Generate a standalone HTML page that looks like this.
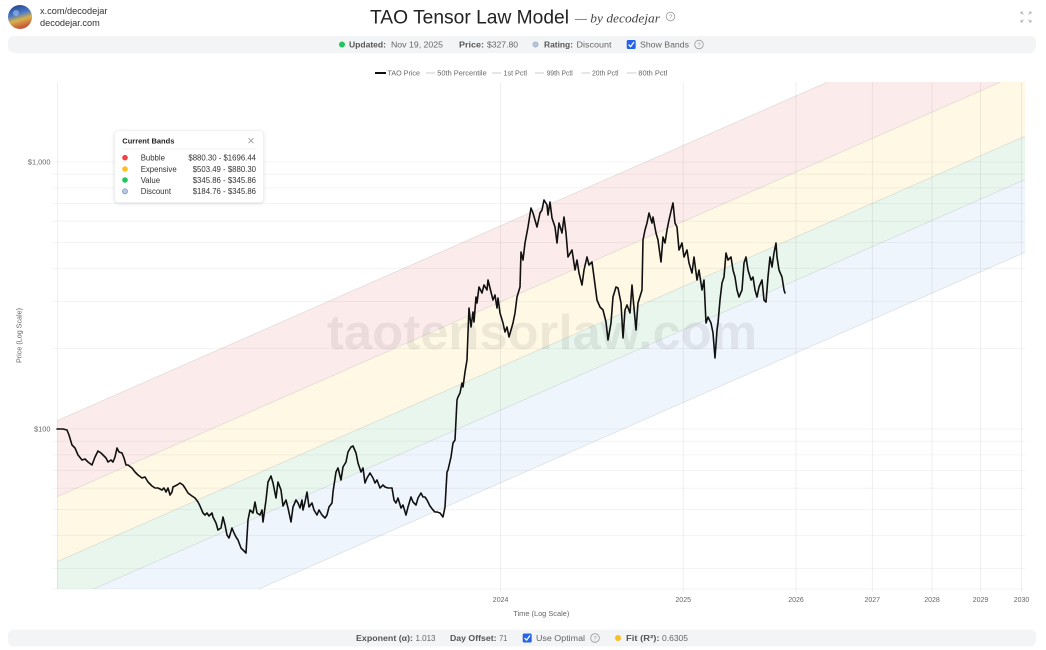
<!DOCTYPE html>
<html><head><meta charset="utf-8"><style>
html,body{margin:0;padding:0;background:#fff;width:1046px;height:650px;overflow:hidden}
svg{position:absolute;left:0;top:0;font-family:"Liberation Sans",sans-serif}
</style></head><body>
<svg width="1046" height="650" viewBox="0 0 1046 650" xmlns="http://www.w3.org/2000/svg">
<defs>
<clipPath id="pc"><rect x="57" y="82" width="968" height="507"/></clipPath>
<linearGradient id="av" x1="0" y1="0" x2="0.3" y2="1">
<stop offset="0" stop-color="#1d3b7a"/><stop offset="0.45" stop-color="#4a78c8"/><stop offset="0.7" stop-color="#d8b24a"/><stop offset="1" stop-color="#c85a3a"/></linearGradient>
<filter id="sh" x="-10%" y="-10%" width="120%" height="130%"><feDropShadow dx="0" dy="1" stdDeviation="1.5" flood-color="#000" flood-opacity="0.12"/></filter>
</defs>

<!-- header -->
<circle cx="20" cy="17" r="12" fill="url(#av)"/>
<circle cx="16" cy="13" r="3" fill="#9cc0f0" opacity="0.6"/>
<text x="40" y="14" font-size="9.2" fill="#333">x.com/decodejar</text>
<text x="40" y="25.8" font-size="9.2" fill="#333">decodejar.com</text>
<text x="370" y="23.3" font-size="19" fill="#222" textLength="199" lengthAdjust="spacingAndGlyphs">TAO Tensor Law Model</text>
<text x="575" y="22.5" font-size="13" fill="#444" font-family="Liberation Serif,serif" font-style="italic" textLength="85" lengthAdjust="spacingAndGlyphs">— by decodejar</text>
<circle cx="670.5" cy="16.5" r="4.3" fill="none" stroke="#999" stroke-width="0.8"/>
<text x="670.5" y="18.8" font-size="6" fill="#999" text-anchor="middle">?</text>
<g stroke="#aaa" stroke-width="0.8" fill="none">
<path d="M1021 14V12H1023M1021 12L1023.5 14.5"/><path d="M1031 14V12H1029M1031 12L1028.5 14.5"/>
<path d="M1021 20V22H1023M1021 22L1023.5 19.5"/><path d="M1031 20V22H1029M1031 22L1028.5 19.5"/>
</g>

<!-- status bar -->
<rect x="8" y="36" width="1028" height="17" rx="6" fill="#f3f4f6"/>
<circle cx="342" cy="44.5" r="3" fill="#22c55e"/>
<text x="349" y="47.7" font-size="8.7" font-weight="bold" fill="#555" textLength="37" lengthAdjust="spacingAndGlyphs">Updated:</text>
<text x="391" y="47.7" font-size="8.7" fill="#666" textLength="52" lengthAdjust="spacingAndGlyphs">Nov 19, 2025</text>
<text x="459" y="47.7" font-size="8.7" font-weight="bold" fill="#555" textLength="25" lengthAdjust="spacingAndGlyphs">Price:</text>
<text x="487" y="47.7" font-size="8.7" fill="#666" textLength="31" lengthAdjust="spacingAndGlyphs">$327.80</text>
<circle cx="535.5" cy="44.5" r="2.6" fill="#b7c7dc" stroke="#8aa0c0" stroke-width="0.6"/>
<text x="544" y="47.7" font-size="8.7" font-weight="bold" fill="#555" textLength="29" lengthAdjust="spacingAndGlyphs">Rating:</text>
<text x="576.5" y="47.7" font-size="8.7" fill="#666" textLength="35" lengthAdjust="spacingAndGlyphs">Discount</text>
<rect x="626.7" y="40" width="9" height="9" rx="1.5" fill="#2563eb"/>
<path d="M628.6 44.6L630.6 46.6L634 42" stroke="#fff" stroke-width="1.3" fill="none"/>
<text x="640" y="47.7" font-size="8.7" fill="#666" textLength="49" lengthAdjust="spacingAndGlyphs">Show Bands</text>
<circle cx="699" cy="44.5" r="4.3" fill="none" stroke="#999" stroke-width="0.8"/>
<text x="699" y="46.8" font-size="6" fill="#999" text-anchor="middle">?</text>

<!-- legend -->
<line x1="375" y1="73" x2="386" y2="73" stroke="#111" stroke-width="2"/>
<text x="387.5" y="75.6" font-size="7.3" fill="#666" textLength="32.5" lengthAdjust="spacingAndGlyphs">TAO Price</text>
<line x1="426" y1="73" x2="435" y2="73" stroke="#ccc" stroke-width="1"/>
<text x="437.3" y="75.6" font-size="7.3" fill="#666" textLength="49.4" lengthAdjust="spacingAndGlyphs">50th Percentile</text>
<line x1="492" y1="73" x2="501" y2="73" stroke="#ccc" stroke-width="1"/>
<text x="503.5" y="75.6" font-size="7.3" fill="#666" textLength="23.5" lengthAdjust="spacingAndGlyphs">1st Pctl</text>
<line x1="535" y1="73" x2="544" y2="73" stroke="#ccc" stroke-width="1"/>
<text x="546.7" y="75.6" font-size="7.3" fill="#666" textLength="26" lengthAdjust="spacingAndGlyphs">99th Pctl</text>
<line x1="581.5" y1="73" x2="590" y2="73" stroke="#ccc" stroke-width="1"/>
<text x="592" y="75.6" font-size="7.3" fill="#666" textLength="26.5" lengthAdjust="spacingAndGlyphs">20th Pctl</text>
<line x1="627" y1="73" x2="636.5" y2="73" stroke="#ccc" stroke-width="1"/>
<text x="638.3" y="75.6" font-size="7.3" fill="#666" textLength="29" lengthAdjust="spacingAndGlyphs">80th Pctl</text>

<!-- bands -->
<g clip-path="url(#pc)">
<polygon points="57,420.7 1025,-4.8 1025,71.3 57,496.8" fill="#fcebeb"/>
<polygon points="57,496.8 1025,71.3 1025,136.2 57,561.7" fill="#fef8e5"/>
<polygon points="57,561.7 1025,136.2 1025,179.6 57,605.1" fill="#e8f6ed"/>
<polygon points="57,605.1 1025,179.6 1025,252.3 57,677.8" fill="#eff5fd"/>
<g stroke="#000" stroke-opacity="0.1" stroke-width="0.8">
<line x1="57" y1="420.7" x2="1025" y2="-4.8"/>
<line x1="57" y1="496.8" x2="1025" y2="71.3"/>
<line x1="57" y1="561.7" x2="1025" y2="136.2"/>
<line x1="57" y1="605.1" x2="1025" y2="179.6"/>
<line x1="57" y1="677.8" x2="1025" y2="252.3"/>
</g>
</g>

<!-- grid -->
<g stroke="#000" stroke-opacity="0.055" stroke-width="0.8">
<line x1="52" y1="568.6" x2="1025" y2="568.6"/>
<line x1="52" y1="535.3" x2="1025" y2="535.3"/>
<line x1="52" y1="509.4" x2="1025" y2="509.4"/>
<line x1="52" y1="488.2" x2="1025" y2="488.2"/>
<line x1="52" y1="470.4" x2="1025" y2="470.4"/>
<line x1="52" y1="454.9" x2="1025" y2="454.9"/>
<line x1="52" y1="441.2" x2="1025" y2="441.2"/>
<line x1="52" y1="429" x2="1025" y2="429"/>
<line x1="52" y1="348.6" x2="1025" y2="348.6"/>
<line x1="52" y1="301.6" x2="1025" y2="301.6"/>
<line x1="52" y1="268.3" x2="1025" y2="268.3"/>
<line x1="52" y1="242.4" x2="1025" y2="242.4"/>
<line x1="52" y1="221.2" x2="1025" y2="221.2"/>
<line x1="52" y1="203.4" x2="1025" y2="203.4"/>
<line x1="52" y1="187.9" x2="1025" y2="187.9"/>
<line x1="52" y1="174.2" x2="1025" y2="174.2"/>
<line x1="52" y1="162" x2="1025" y2="162"/>
<line x1="52" y1="589" x2="1025" y2="589"/>
</g>
<g stroke="#000" stroke-opacity="0.08" stroke-width="0.8">
<line x1="57.5" y1="82" x2="57.5" y2="589"/>
<line x1="500.6" y1="82" x2="500.6" y2="592"/>
<line x1="683.2" y1="82" x2="683.2" y2="592"/>
<line x1="796" y1="82" x2="796" y2="592"/>
<line x1="872.3" y1="82" x2="872.3" y2="592"/>
<line x1="932" y1="82" x2="932" y2="592"/>
<line x1="980.5" y1="82" x2="980.5" y2="592"/>
<line x1="1021.5" y1="82" x2="1021.5" y2="592"/>
</g>

<!-- watermark -->
<text x="542" y="349" font-size="49" font-weight="bold" fill="#000" fill-opacity="0.065" text-anchor="middle" textLength="430" lengthAdjust="spacingAndGlyphs">taotensorlaw.com</text>

<!-- price -->
<polyline fill="none" stroke="#111" stroke-width="1.6" stroke-linejoin="round" stroke-linecap="round" points="57,429 63,429 67,430 69,435 72,445 75,448 78,455 82,460 85,459 88,462 92,465 95,457 98,451 101,453 103,455 106,458 108,462 111,460 113,462 115,457 117,448 119,452 122,453 124,458 126,465 128,465 132,468 135,472 138,475 142,478 145,477 148,482 152,486 155,488 158,488 162,490 164,488 166,492 168,488 170,495 172,492 173,487 177,485 180,483 183,485 185,488 188,493 192,496 195,498 198,502 200,506 203,513 205,515 207,513 209,516 212,513 213,517 216,523 218,530 221,528 223,517 225,525 227,535 229,538 232,528 234,533 236,537 238,540 241,548 243,550 246,553 248,520 250,510 253,513 255,502 257,513 260,515 262,510 263,522 266,500 268,482 271,476 273,483 276,498 278,482 281,490 283,506 286,500 288,508 291,522 293,507 296,500 298,503 300,508 302,500 303,510 305,502 307,492 309,507 312,503 314,510 317,515 319,510 322,515 325,518 327,515 329,507 332,503 333,492 336,472 338,468 341,480 343,467 346,462 348,452 351,447 353,446 356,453 358,463 361,472 363,468 365,483 367,478 370,473 373,478 375,483 377,480 380,488 383,485 385,487 388,488 392,488 394,500 396,503 398,498 401,508 403,505 406,515 408,507 411,497 413,502 416,505 418,498 421,493 423,497 425,497 427,500 430,506 433,510 435,512 437,512 440,513 443,517 445,507 447,472 448,470 451,457 453,443 455,440 456,420 457,400 458,397 460,393 462,383 463,387 465,372 467,360 468,333 469,308 471,327 473,312 474,322 476,297 477,303 479,287 482,293 484,285 487,290 488,280 491,292 493,300 495,295 497,308 498,298 500,313 503,323 505,332 507,327 509,337 511,330 513,323 515,313 517,297 520,287 521,252 523,260 525,243 528,227 531,208 533,213 537,227 540,213 542,210 544,200 547,205 548,215 550,202 552,218 555,227 557,243 559,223 562,233 564,217 566,233 568,257 572,250 575,270 577,260 579,273 582,285 584,270 587,257 589,265 592,262 594,277 597,300 600,307 603,310 606,322 608,340 611,323 613,297 616,287 618,288 621,303 623,338 625,310 627,305 630,313 632,285 633,297 636,330 638,303 642,290 643,240 645,230 647,223 649,213 652,223 653,217 656,233 658,240 661,262 663,237 665,243 667,230 669,220 672,207 673,203 675,223 677,227 679,250 682,243 684,257 687,250 689,263 692,273 694,257 697,280 699,270 702,290 704,280 706,323 708,317 711,323 713,333 715,358 717,330 718,323 720,300 722,283 724,277 726,253 728,260 731,257 733,270 735,277 737,290 739,297 742,290 744,263 746,257 748,270 751,280 753,277 755,290 757,297 759,287 762,280 764,300 766,302 768,277 770,257 772,267 774,253 776,243 777,257 779,270 782,277 784,290 785,293"/>

<!-- axis labels -->
<g font-size="7.4" fill="#666">
<text x="50.5" y="164.7" text-anchor="end">$1,000</text>
<text x="50.5" y="431.7" text-anchor="end">$100</text>
<text x="500.6" y="601.8" text-anchor="middle" font-size="7">2024</text>
<text x="683.2" y="601.8" text-anchor="middle" font-size="7">2025</text>
<text x="796" y="601.8" text-anchor="middle" font-size="7">2026</text>
<text x="872.3" y="601.8" text-anchor="middle" font-size="7">2027</text>
<text x="932" y="601.8" text-anchor="middle" font-size="7">2028</text>
<text x="980.5" y="601.8" text-anchor="middle" font-size="7">2029</text>
<text x="1021.5" y="601.8" text-anchor="middle" font-size="7">2030</text>
<text x="541.3" y="615.9" text-anchor="middle" textLength="56" lengthAdjust="spacingAndGlyphs">Time (Log Scale)</text>
<text transform="translate(21.5,335.5) rotate(-90)" text-anchor="middle" textLength="55" lengthAdjust="spacingAndGlyphs">Price (Log Scale)</text>
</g>

<!-- current bands box -->
<rect x="114.5" y="130.5" width="149" height="72" rx="4" fill="#fff" stroke="#e8e8e8" stroke-width="0.6" filter="url(#sh)"/>
<text x="122.3" y="143.3" font-size="7.5" font-weight="bold" fill="#222">Current Bands</text>
<path d="M248.5 138.2L253.5 143.2M253.5 138.2L248.5 143.2" stroke="#999" stroke-width="0.8"/>
<line x1="122" y1="149" x2="256" y2="149" stroke="#eee" stroke-width="0.8"/>
<g font-size="7.8" fill="#333">
<circle cx="125" cy="157.7" r="2.8" fill="#ef4444"/>
<text x="140.7" y="160.5">Bubble</text>
<text x="256" y="160.5" text-anchor="end">$880.30 - $1696.44</text>
<circle cx="125" cy="169" r="2.8" fill="#fbbf24"/>
<text x="140.7" y="171.8">Expensive</text>
<text x="256" y="171.8" text-anchor="end">$503.49 - $880.30</text>
<circle cx="125" cy="180" r="2.8" fill="#22c55e"/>
<text x="140.7" y="182.8">Value</text>
<text x="256" y="182.8" text-anchor="end">$345.86 - $345.86</text>
<circle cx="125" cy="191.3" r="2.6" fill="#b7c7dc" stroke="#6f8fbf" stroke-width="0.6"/>
<text x="140.7" y="194.1">Discount</text>
<text x="256" y="194.1" text-anchor="end">$184.76 - $345.86</text>
</g>

<!-- footer bar -->
<rect x="8" y="629.5" width="1028" height="17" rx="6" fill="#f3f4f6"/>
<text x="356" y="641.2" font-size="8.7" font-weight="bold" fill="#555" textLength="57" lengthAdjust="spacingAndGlyphs">Exponent (α):</text>
<text x="415.5" y="641.2" font-size="8.7" fill="#666" textLength="20" lengthAdjust="spacingAndGlyphs">1.013</text>
<text x="450" y="641.2" font-size="8.7" font-weight="bold" fill="#555" textLength="46.5" lengthAdjust="spacingAndGlyphs">Day Offset:</text>
<text x="499.3" y="641.2" font-size="8.7" fill="#666" textLength="8" lengthAdjust="spacingAndGlyphs">71</text>
<rect x="522.7" y="633.5" width="9" height="9" rx="1.5" fill="#2563eb"/>
<path d="M524.6 638.1L526.6 640.1L530 635.5" stroke="#fff" stroke-width="1.3" fill="none"/>
<text x="536" y="641.2" font-size="8.7" fill="#666" textLength="49" lengthAdjust="spacingAndGlyphs">Use Optimal</text>
<circle cx="595" cy="638" r="4.3" fill="none" stroke="#999" stroke-width="0.8"/>
<text x="595" y="640.3" font-size="6" fill="#999" text-anchor="middle">?</text>
<circle cx="618" cy="638" r="3" fill="#fbbf24"/>
<text x="626" y="641.2" font-size="8.7" font-weight="bold" fill="#555" textLength="33.5" lengthAdjust="spacingAndGlyphs">Fit (R²):</text>
<text x="662" y="641.2" font-size="8.7" fill="#666" textLength="26" lengthAdjust="spacingAndGlyphs">0.6305</text>
</svg>
</body></html>
